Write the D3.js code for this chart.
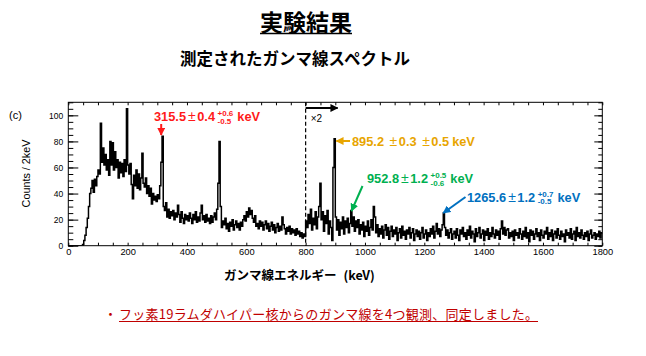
<!DOCTYPE html>
<html><head><meta charset="utf-8">
<script src="https://cdn.jsdelivr.net/npm/d3@7"></script>
<style>body{margin:0;background:#fff}svg{display:block}</style>
</head><body><svg id="c" width="646" height="356"></svg>
<script>
// ---------------- DATA ----------------
const binWidth = 4; // keV per drawn bin
// 0–400 keV
const countsA = [0,0,0,0,0,0,0,0,0,0,0,0,
 1,4,8,14,21,30,40,44,50,41,51,46,53,58,55,94,64,75,62,70,58,66,54,80,62,79,58,72,60,66,52,64,56,63,53,66,57,105,
 62,55,63,47,36,54,46,58,44,55,43,52,71,48,45,52,40,46,38,44,32,40,35,38,34,39,36,46,64,84,
 30,27,33,22,28,21,26,23,27,20,25,22,31,24,18,26,21,17,24,20];
// 400–800 keV
const countsB = [23,19,25,21,17,24,20,26,18,22,19,25,31,20,23,18,24,19,21,17,23,18,22,25,20,
 28,48,80,30,14,19,16,21,13,17,11,18,15,20,12,16,19,14,17,12,18,15,20,23,19,
 26,22,29,24,27,21,18,23,15,17,13,19,15,18,12,16,19,13,17,11,15,18,12,16,10,
 14,17,11,15,12,22,16,13,9,14,11,15,9,13,10,12,8,13,9,11,7,10,6,9,7];
// 800–1300 keV (displayed ×2)
const countsC = [19,14,24,17,28,12,21,16,26,13,22,30,48,20,26,11,23,17,27,9,19,14,4,60,82,
 22,12,20,8,18,13,22,9,19,14,21,10,17,27,15,22,11,19,14,20,9,16,12,18,7,
 15,11,19,8,14,20,12,30,22,10,16,7,13,9,15,6,12,16,8,14,5,11,15,7,12,
 9,14,4,10,13,6,15,8,11,5,12,9,14,6,10,13,4,9,12,7,11,5,10,14,6,
 9,12,4,10,7,13,9,15,6,11,17,9,13,7,12,16,25,14,8,12,6,10,13,5,9];
// 1300–1800 keV (displayed ×2)
const countsD = [11,6,13,8,4,12,9,14,7,10, 5,12,8,15,6,11,9,3,13,7,
 10,14,6,9,12,4,11,8,13,5, 10,7,14,9,6,12,8,11,5,13,
 19,9,14,8,12,13,6,10,7,11, 4,12,8,10,6,13,9,5,11,7,
 14,6,10,3,12,8,11,5,9,13, 7,10,4,12,8,6,11,9,14,5,
 10,7,12,4,9,11,6,13,8,5, 11,7,9,3,12,8,10,6,13,5,
 9,11,4,14,7,10,6,12,8,5, 10,7,11,4,9,12,6,8,10,5, 9,7,11,6,10];

const xTicks = [0,200,400,600,800,1000,1200,1400,1600,1800];
const yTicks = [0,20,40,60,80,100];
const scaleBreak = 800;

const peakEnergies = [315.5, 895.2, 952.8, 1265.6];
const peakMain = [["315.5","0.4"], ["895.2 ","0.3 ","0.5"], ["952.8","1.2"], ["1265.6","1.2"]];
const peakSup = ["+0.6", "", "+0.5", "+0.7"];
const peakSub = ["-0.5", "", "-0.6", "-0.5"];
const peakColors = ["#ff1a1a", "#e8a500", "#00b050", "#0070c0"];

// ---------------- LAYOUT ----------------
const svg = d3.select("#c");
const L = 68.3, R = 602.3, T = 102.3, B = 245.7;
const x = d3.scaleLinear().domain([0, 1800]).range([L, R]);
const y = d3.scaleLinear().domain([0, 110]).range([B, T]);
const jp = "'Noto Sans CJK JP', sans-serif";
const sans = "'Liberation Sans', Arial, sans-serif";

// titles
const t1 = svg.append("text").attr("x", 306).attr("y", 31).attr("text-anchor", "middle")
  .attr("font-family", jp).attr("font-weight", "bold").attr("font-size", 23).text("実験結果");
const b1 = t1.node().getBBox();
svg.append("line").attr("x1", b1.x).attr("x2", b1.x + b1.width).attr("y1", 33.5).attr("y2", 33.5)
  .attr("stroke", "#000").attr("stroke-width", 1.5);
svg.append("text").attr("x", 295).attr("y", 65).attr("text-anchor", "middle")
  .attr("font-family", jp).attr("font-weight", "bold").attr("font-size", 16.5).text("測定されたガンマ線スペクトル");

svg.append("text").attr("x", 9).attr("y", 119).attr("font-family", sans).attr("font-size", 11).text("(c)");

// histogram
const counts = countsA.concat(countsB, countsC, countsD);
const pts = counts.map((v, i) => [i * binWidth, v]);
pts.push([counts.length * binWidth, counts[counts.length - 1]]);
svg.append("clipPath").attr("id", "clip").append("rect")
  .attr("x", L).attr("y", T).attr("width", R - L).attr("height", B - T);
svg.append("path").attr("clip-path", "url(#clip)")
  .attr("d", d3.line().x(d => x(d[0])).y(d => y(d[1])).curve(d3.curveStepAfter)(pts))
  .attr("fill", "none").attr("stroke", "#000").attr("stroke-width", 1.5);

// frame
svg.append("rect").attr("x", L).attr("y", T).attr("width", R - L).attr("height", B - T)
  .attr("fill", "none").attr("stroke", "#000").attr("stroke-width", 1);

// axes
function styleAxis(g) { g.select(".domain").remove(); g.selectAll("line").attr("stroke", "#000"); }
const yMinor = d3.range(0, 111, 5);
svg.append("g").attr("transform", `translate(${L},0)`)
  .call(d3.axisLeft(y).tickValues(yMinor).tickSize(-5).tickFormat(""))
  .call(styleAxis);
svg.append("g").attr("transform", `translate(${L},0)`)
  .call(d3.axisLeft(y).tickValues(yTicks).tickSize(-10).tickPadding(5).tickFormat(d3.format("d")))
  .call(styleAxis)
  .call(g => g.selectAll("text").attr("font-family", sans).attr("font-size", 8.5).attr("fill", "#000"));
svg.append("g").attr("transform", `translate(${R},0)`)
  .call(d3.axisRight(y).tickValues(yMinor).tickSize(-4).tickFormat(""))
  .call(styleAxis);
svg.append("g").attr("transform", `translate(${R},0)`)
  .call(d3.axisRight(y).tickValues(yTicks).tickSize(-8).tickFormat(""))
  .call(styleAxis);
const xMinor = d3.range(0, 1801, 50);
svg.append("g").attr("transform", `translate(0,${T})`)
  .call(d3.axisTop(x).tickValues(xMinor).tickSize(-3).tickFormat(""))
  .call(styleAxis);
svg.append("g").attr("transform", `translate(0,${B})`)
  .call(d3.axisBottom(x).tickValues(xMinor).tickSize(-3).tickFormat(""))
  .call(styleAxis);
svg.append("g").attr("transform", `translate(0,${B})`)
  .call(d3.axisBottom(x).tickValues(xTicks).tickSize(0).tickPadding(2.5).tickFormat(d3.format("d")))
  .call(styleAxis)
  .call(g => g.selectAll("text").attr("font-family", sans).attr("font-size", 9.3).attr("fill", "#000"));

// axis titles
svg.append("text").attr("transform", "translate(30,173.5) rotate(-90)").attr("text-anchor", "middle")
  .attr("font-family", sans).attr("font-size", 10.8).text("Counts / 2keV");
const xt = svg.append("text").attr("x", 224).attr("y", 280).attr("font-family", jp).attr("font-size", 12.5).attr("font-weight", "bold");
xt.append("tspan").text("ガンマ線エネルギー");
xt.append("tspan").attr("dx", 7).text("(keV)");

// ×2 region marker
svg.append("line").attr("x1", x(scaleBreak)).attr("x2", x(scaleBreak)).attr("y1", T).attr("y2", B)
  .attr("stroke", "#000").attr("stroke-width", 1.2).attr("stroke-dasharray", "4,2.5");
svg.append("defs").selectAll("marker").data(["#000"].concat(peakColors)).join("marker")
  .attr("id", (d, i) => "ah" + i).attr("viewBox", "0 0 10 10").attr("refX", 9).attr("refY", 5)
  .attr("markerWidth", 4).attr("markerHeight", 4).attr("orient", "auto-start-reverse")
  .append("path").attr("d", "M0,0L10,5L0,10z").attr("fill", d => d);
svg.append("line").attr("x1", x(scaleBreak)).attr("x2", x(scaleBreak) + 32).attr("y1", 108).attr("y2", 108)
  .attr("stroke", "#000").attr("stroke-width", 2).attr("marker-end", "url(#ah0)");
svg.append("text").attr("x", x(scaleBreak) + 5).attr("y", 122).attr("font-family", sans).attr("font-size", 10).text("\u00d72");

// peak annotations
const annLayout = [
  {lx: 154, ly: 121, tail: [x(peakEnergies[0]) - 0.7, 124], head: [x(peakEnergies[0]) - 0.7, 135]},
  {lx: 352, ly: 145.5, tail: [350, 141], head: [x(peakEnergies[1]) + 2.5, 141]},
  {lx: 367, ly: 183, tail: [362.5, 186], head: [x(peakEnergies[2]) + 0.5, 211]},
  {lx: 467, ly: 201.5, tail: [465.5, 197], head: [x(peakEnergies[3]) - 0.5, 213]}
];
peakEnergies.forEach((e, i) => {
  const a = annLayout[i], col = peakColors[i];
  svg.append("line").attr("x1", a.tail[0]).attr("y1", a.tail[1]).attr("x2", a.head[0]).attr("y2", a.head[1])
    .attr("stroke", col).attr("stroke-width", 2).attr("marker-end", `url(#ah${i + 1})`);
  const g = svg.append("g").attr("font-family", sans).attr("font-weight", "bold").attr("fill", col);
  const m = g.append("text").attr("x", a.lx).attr("y", a.ly).attr("font-size", 12.8);
  peakMain[i].forEach((part, k) => {
    if (k > 0) m.append("tspan").attr("dx", 2).attr("font-weight", "normal").attr("font-size", 14).text("\u00b1");
    m.append("tspan").attr("dx", k > 0 ? 1.5 : 0).text(part);
  });
  let endX = a.lx + m.node().getComputedTextLength() + 6;
  if (peakSup[i]) {
    const s1 = g.append("text").attr("x", endX).attr("y", a.ly - 5).attr("font-size", 8).text(peakSup[i]);
    const s2 = g.append("text").attr("x", endX).attr("y", a.ly + 2.5).attr("font-size", 8).text(peakSub[i]);
    endX += Math.max(s1.node().getComputedTextLength(), s2.node().getComputedTextLength());
  }
  g.append("text").attr("x", endX + 4).attr("y", a.ly).attr("font-size", 12.8).text("keV");
});

// bottom note
svg.append("text").attr("x", 104).attr("y", 319).attr("font-family", jp).attr("font-size", 13).attr("fill", "#c00000").text("・");
svg.append("text").attr("x", 119).attr("y", 319).attr("font-family", jp).attr("font-size", 13)
  .attr("fill", "#c00000").attr("textLength", 419).text("フッ素19ラムダハイパー核からのガンマ線を4つ観測、同定しました。");
svg.append("line").attr("x1", 119).attr("x2", 538).attr("y1", 321.5).attr("y2", 321.5)
  .attr("stroke", "#c00000").attr("stroke-width", 1.2);
</script></body></html>
